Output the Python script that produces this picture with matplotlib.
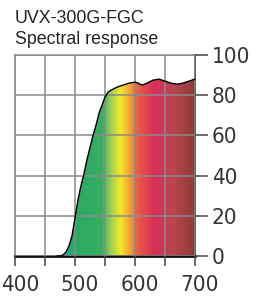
import matplotlib
matplotlib.use("Agg")
import matplotlib.pyplot as plt
import numpy as np
from matplotlib.colors import LinearSegmentedColormap
from matplotlib.transforms import ScaledTranslation

plt.rcParams['font.family'] = ['Liberation Sans', 'DejaVu Sans']

# Spectral response
wavelength = [470, 475, 480, 485, 490, 495, 500, 505, 510, 515, 520, 525, 530,
              535, 540, 545, 550, 555, 560, 570, 580, 590, 600, 605, 612,
              620, 630, 640, 650, 660, 670, 680, 690, 700]
response = [0, 0, 0.5, 2, 5, 10, 19, 28, 35, 41, 48, 54, 60,
            65, 71, 75, 79, 81.5, 82.5, 84, 85, 86, 86.5, 86, 85,
            86, 87.5, 88, 87, 86, 85.5, 86, 87, 88]

# colour of the fill along the wavelength axis
stop_nm = [400, 478, 488, 496, 545, 560, 576, 592, 605, 632, 665, 700]
stop_col = ['#2bb5c8', '#2bb5c8', '#22a89a', '#2aa865', '#36ad62', '#9fcf55',
            '#f3e92b', '#f3a23a', '#e85c45', '#d82f5a', '#b8454f', '#8e3a36']

y_ticks = [0, 20, 40, 60, 80, 100]
x_ticks = [400, 500, 600, 700]
x_minor = [450, 550, 650]

tick_font = dict(family='DejaVu Sans', stretch='condensed', size=16)

fig = plt.figure(figsize=(2.65, 2.97), dpi=100)
ax = fig.add_axes([15 / 265, 1 - 256 / 297, 180 / 265, 201 / 297])

cmap = LinearSegmentedColormap.from_list(
    'spec', [((n - 400) / 300, c) for n, c in zip(stop_nm, stop_col)])
grad = np.linspace(0, 1, 600).reshape(1, -1)
img = ax.imshow(grad, cmap=cmap, aspect='auto', extent=[400, 700, 0, 100],
                zorder=1, interpolation='bilinear')
poly = ax.fill_between(wavelength, response, 0, color='none', lw=0)
img.set_clip_path(poly.get_paths()[0], transform=ax.transData)
ax.plot(wavelength, response, color='black', lw=1.0, zorder=3)

ax.set_xlim(400, 700)
ax.set_ylim(0, 100)

ax.set_xticks(x_ticks)
ax.set_xticks(x_minor, minor=True)
ax.set_xticklabels([])
ax.set_yticks(y_ticks)
ax.grid(True, which='both', color='#8a8a8a', lw=1.1, zorder=2)
ax.set_axisbelow(False)

ax.yaxis.tick_right()
ax.tick_params(axis='y', length=9, width=1.1, color='#444444', pad=3,
               labelcolor='#333333')
ax.tick_params(axis='x', which='both', length=7, width=1.1, color='#444444')
for lab in ax.get_yticklabels():
    lab.set_fontproperties(tick_font)

# x labels sit a little right of their ticks in the original
offset = ScaledTranslation(5 / 100, -19 / 100, fig.dpi_scale_trans)
for t in x_ticks:
    ax.text(t, 0, str(t), transform=ax.get_xaxis_transform() + offset,
            ha='center', va='top', color='#333333', clip_on=False, **tick_font)

for side in ['left', 'top']:
    ax.spines[side].set_color('#8a8a8a')
    ax.spines[side].set_linewidth(1.1)
ax.spines['right'].set_color('#444444')
ax.spines['right'].set_linewidth(1.2)
ax.spines['bottom'].set_color('#111111')
ax.spines['bottom'].set_linewidth(2)

fig.text(15 / 265, 1 - 23 / 297, 'UVX-300G-FGC', fontsize=12.8, color='#222222',
         ha='left', va='baseline')
fig.text(15 / 265, 1 - 44 / 297, 'Spectral response', fontsize=12.8,
         color='#222222', ha='left', va='baseline')

fig.savefig('out.png', dpi=100)
